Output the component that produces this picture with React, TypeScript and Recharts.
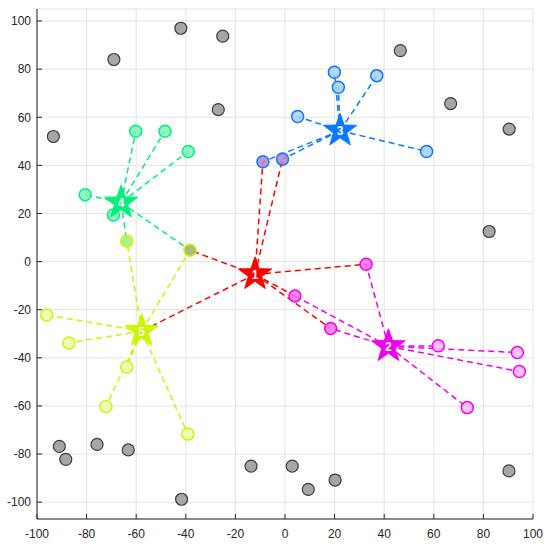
import React from 'react';
import { ScatterChart, Scatter, XAxis, YAxis, CartesianGrid } from 'recharts';

const xTicks = [-100, -80, -60, -40, -20, 0, 20, 40, 60, 80, 100];
const yTicks = [-100, -80, -60, -40, -20, 0, 20, 40, 60, 80, 100];

// unassigned points
const grayPoints = [
  { x: -93.4, y: 52 }, { x: -69, y: 84 }, { x: -42, y: 97 }, { x: -25.1, y: 93.7 },
  { x: -26.9, y: 63.2 }, { x: 46.5, y: 87.7 }, { x: 66.8, y: 65.7 }, { x: 90.4, y: 55.1 },
  { x: 82.3, y: 12.5 }, { x: -91, y: -76.8 }, { x: -88.4, y: -82.2 }, { x: -75.8, y: -76 },
  { x: -63.2, y: -78.3 }, { x: -41.7, y: -98.8 }, { x: -13.7, y: -85 }, { x: 2.9, y: -85 },
  { x: 9.4, y: -94.7 }, { x: 20.2, y: -90.8 }, { x: 90.3, y: -87 },
];

// cluster centres (stars)
const centers = [
  { id: 1, x: -12.1, y: -5.3 },
  { id: 2, x: 41.7, y: -35.2 },
  { id: 3, x: 22.2, y: 54.4 },
  { id: 4, x: -66.1, y: 24.5 },
  { id: 5, x: -57.8, y: -28.9 },
];

// members: prev = cluster the point came from (0 = none), links = other centres still joined to it
const members2 = [
  { x: 32.7, y: -1.1, prev: 1, links: [1] },
  { x: 4, y: -14.3, prev: 1, links: [1] },
  { x: 18.4, y: -27.8, prev: 1, links: [1] },
  { x: 61.8, y: -35, prev: 2, links: [] },
  { x: 93.7, y: -37.8, prev: 2, links: [] },
  { x: 94.5, y: -45.7, prev: 2, links: [] },
  { x: 73.5, y: -60.7, prev: 2, links: [] },
];
const members3 = [
  { x: -8.9, y: 41.5, prev: 1, links: [1] },
  { x: -1, y: 42.6, prev: 1, links: [1] },
  { x: 19.9, y: 78.7, prev: 3, links: [] },
  { x: 21.5, y: 72.5, prev: 3, links: [] },
  { x: 37, y: 77.3, prev: 3, links: [] },
  { x: 5.1, y: 60.3, prev: 3, links: [] },
  { x: 57.1, y: 45.8, prev: 3, links: [] },
];
const members4 = [
  { x: -80.6, y: 27.8, prev: 4, links: [] },
  { x: -69.2, y: 19.4, prev: 4, links: [] },
  { x: -60.2, y: 54.2, prev: 4, links: [] },
  { x: -48.4, y: 54.2, prev: 4, links: [] },
  { x: -39, y: 45.8, prev: 4, links: [] },
];
const members5 = [
  { x: -38.3, y: 4.7, prev: 0, links: [1, 4] },
  { x: -63.8, y: 8.6, prev: 4, links: [4] },
  { x: -96.1, y: -22.2, prev: 5, links: [] },
  { x: -87.1, y: -33.8, prev: 5, links: [] },
  { x: -63.8, y: -43.8, prev: 5, links: [] },
  { x: -72.2, y: -60.2, prev: 5, links: [] },
  { x: -39.2, y: -71.7, prev: 5, links: [] },
];
// centre-to-centre links
const centerLinks = [[1, 5]];

const clusters = [
  { id: 2, members: members2 },
  { id: 3, members: members3 },
  { id: 4, members: members4 },
  { id: 5, members: members5 },
];

const COLORS: Record<number, string> = {
  1: '#ff0000',
  2: '#ee00ee',
  3: '#0a78ff',
  4: '#00f07a',
  5: '#ccf500',
};
const FILLS: Record<string, string> = {
  '2-2': '#ffb6ff', '2-1': '#f370e4',
  '3-3': '#a8d0ff', '3-1': '#b982c8',
  '4-4': '#80f2ba',
  '5-5': '#eaffb0', '5-4': '#9cf07c', '5-0': '#a4ae78',
};
const AXIS = '#262626';
const FONT = 'Liberation Sans, Arial, Helvetica, sans-serif';

const center = (id: number) => centers.find(c => c.id === id)!;

const segments: Array<{ a: { x: number; y: number }; b: { x: number; y: number }; color: string }> = [];
clusters.forEach(cl => {
  cl.members.forEach(m => {
    m.links.forEach(l => segments.push({ a: center(l), b: m, color: COLORS[l] }));
    segments.push({ a: center(cl.id), b: m, color: COLORS[cl.id] });
  });
});
centerLinks.forEach(([f, t]) => segments.push({ a: center(f), b: center(t), color: COLORS[f] }));

const Empty = () => <g />;

const GrayDot = (props: any) => (
  <circle cx={props.cx} cy={props.cy} r={6} fill="#a6a6a6" stroke="#3c3c3c" strokeWidth={1.2} />
);

const makeDot = (id: number) => (props: any) => (
  <circle
    cx={props.cx}
    cy={props.cy}
    r={6}
    fill={FILLS[`${id}-${props.payload.prev}`]}
    fillOpacity={0.85}
    stroke={COLORS[id]}
    strokeWidth={1.5}
  />
);

const StarShape = (props: any) => {
  const { cx, cy, payload } = props;
  const R = 17.5;
  const r = 7;
  const pts: string[] = [];
  for (let i = 0; i < 10; i++) {
    const ang = -Math.PI / 2 + (i * Math.PI) / 5;
    const rad = i % 2 === 0 ? R : r;
    pts.push(`${cx + rad * Math.cos(ang)},${cy + rad * Math.sin(ang)}`);
  }
  const color = COLORS[payload.id];
  return (
    <g>
      <polygon points={pts.join(' ')} fill={color} stroke={color} strokeWidth={1} />
      <text x={cx} y={cy + 4.5} textAnchor="middle" fontSize={12} fontWeight="bold" fill="#ffffff" fontFamily={FONT}>
        {payload.id}
      </text>
    </g>
  );
};

const tickStyle = { fontSize: 12, fill: AXIS, fontFamily: FONT };

export default function App() {
  return (
    <div style={{ position: 'absolute', left: 0, top: 0, background: '#fff' }}>
      <ScatterChart width={550} height={548} margin={{ top: 9, right: 17, bottom: 0, left: 0 }}>
        <CartesianGrid stroke="#e3e3e3" strokeWidth={1} />
        <XAxis
          type="number"
          dataKey="x"
          domain={[-100, 100]}
          ticks={xTicks}
          allowDataOverflow
          height={29}
          tickSize={-5}
          tickMargin={15}
          tick={tickStyle}
          stroke={AXIS}
          axisLine={{ stroke: AXIS }}
          tickLine={{ stroke: AXIS }}
        />
        <XAxis
          xAxisId="top"
          orientation="top"
          type="number"
          domain={[-100, 100]}
          ticks={xTicks}
          allowDataOverflow
          height={0}
          tickSize={-5}
          tick={false}
          axisLine={{ stroke: AXIS }}
          tickLine={{ stroke: AXIS }}
        />
        <YAxis
          type="number"
          dataKey="y"
          domain={[-107, 105]}
          ticks={yTicks}
          allowDataOverflow
          width={37}
          tickSize={-5}
          tickMargin={11}
          tick={tickStyle}
          axisLine={{ stroke: AXIS }}
          tickLine={{ stroke: AXIS }}
        />
        <YAxis
          yAxisId="right"
          orientation="right"
          type="number"
          domain={[-107, 105]}
          ticks={yTicks}
          allowDataOverflow
          width={0}
          tickSize={-5}
          tick={false}
          axisLine={{ stroke: AXIS }}
          tickLine={{ stroke: AXIS }}
        />
        {segments.map((s, i) => (
          <Scatter
            key={`seg-${i}`}
            data={[s.a, s.b]}
            line={{ stroke: s.color, strokeWidth: 1.5, strokeDasharray: '6 4' }}
            shape={Empty}
            isAnimationActive={false}
          />
        ))}
        <Scatter data={grayPoints} shape={GrayDot} isAnimationActive={false} />
        {clusters.map(cl => (
          <Scatter key={`cl-${cl.id}`} data={cl.members} shape={makeDot(cl.id)} isAnimationActive={false} />
        ))}
        <Scatter data={centers} shape={StarShape} isAnimationActive={false} />
      </ScatterChart>
    </div>
  );
}
